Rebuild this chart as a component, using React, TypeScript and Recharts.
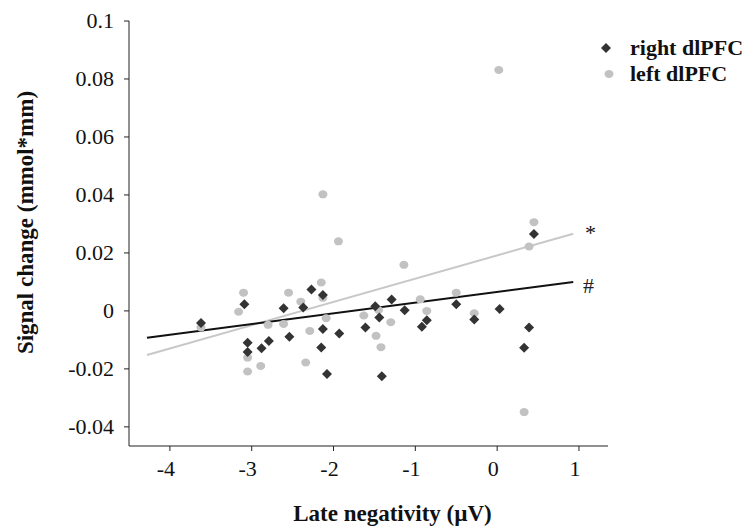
import React from 'react';
import {
  ScatterChart,
  Scatter,
  XAxis,
  YAxis,
  ReferenceLine,
  Label,
} from 'recharts';

// right dlPFC (dark diamonds)
const rightX = [
  -3.62, -3.09, -3.05, -3.05, -2.88, -2.79, -2.61, -2.54, -2.37, -2.27,
  -2.13, -2.13, -2.15, -2.08, -1.93, -1.61, -1.49, -1.44, -1.29, -1.41,
  -1.13, -0.92, -0.86, -0.5, -0.28, 0.03, 0.33, 0.39, 0.45,
];
const rightY = [
  -0.0042, 0.0023, -0.011, -0.0142, -0.0129, -0.0104, 0.0009, -0.0089, 0.0012, 0.0074,
  0.0055, -0.0062, -0.0126, -0.0218, -0.0078, -0.0057, 0.0016, -0.0023, 0.0039, -0.0225,
  0.0002, -0.0055, -0.0032, 0.0023, -0.003, 0.0007, -0.0127, -0.0057, 0.0265,
];

// left dlPFC (grey circles)
const leftX = [
  -3.62, -3.1, -3.16, -3.05, -3.05, -2.89, -2.8, -2.61, -2.55, -2.4,
  -2.34, -2.29, -2.15, -2.13, -2.09, -2.13, -1.94, -1.63, -1.45, -1.3,
  -1.48, -1.42, -1.14, -0.94, -0.86, -0.5, -0.28, 0.02, 0.39, 0.45, 0.33,
];
const leftY = [
  -0.0057, 0.0063, -0.0003, -0.0161, -0.0209, -0.019, -0.0048, -0.0045, 0.0063, 0.0032,
  -0.0178, -0.0069, 0.0098, 0.0045, -0.0025, 0.0402, 0.024, -0.0016, 0.0003, -0.0039,
  -0.0086, -0.0125, 0.0159, 0.004, 0.0, 0.0063, -0.0008, 0.0831, 0.0222, 0.0306, -0.0349,
];

// regression lines: [start, end]
const fitX = [-4.28, 0.93];
const rightFitY = [-0.0093, 0.01];
const leftFitY = [-0.0152, 0.0266];

const xTicks = [-4, -3, -2, -1, 0, 1];
const yTicks = [-0.04, -0.02, 0, 0.02, 0.04, 0.06, 0.08, 0.1];

const rightData = rightX.map((x, i) => ({ x, y: rightY[i] }));
const leftData = leftX.map((x, i) => ({ x, y: leftY[i] }));

const FONT = 'Liberation Serif, Times New Roman, serif';
const DARK = '#333333';
const GREY = '#c2c2c2';

const Diamond = (props: any) => {
  const { cx, cy } = props;
  const r = 5;
  return (
    <polygon
      points={`${cx},${cy - r} ${cx + r},${cy} ${cx},${cy + r} ${cx - r},${cy}`}
      fill={DARK}
    />
  );
};

const Dot = (props: any) => {
  const { cx, cy } = props;
  return <ellipse cx={cx} cy={cy} rx={4.5} ry={4} fill={GREY} />;
};

const fmtY = (v: number) => (v === 0 ? '0' : String(Number(v.toFixed(2))));

const XTick = (props: any) => {
  const { x, y, payload } = props;
  return (
    <text x={x - 4} y={y + 23} textAnchor="middle" fontFamily={FONT} fontSize={22} fill="#111">
      {payload.value}
    </text>
  );
};

const YTick = (props: any) => {
  const { x, y, payload } = props;
  return (
    <text x={x - 8} y={y} dy={7} textAnchor="end" fontFamily={FONT} fontSize={22} fill="#111">
      {fmtY(payload.value)}
    </text>
  );
};

const YTitle = (props: any) => {
  const { viewBox } = props;
  const cx = 25;
  const cy = viewBox.y + viewBox.height / 2 - 11;
  return (
    <text
      x={cx}
      y={cy}
      transform={`rotate(-90, ${cx}, ${cy})`}
      textAnchor="middle"
      dominantBaseline="central"
      fontFamily={FONT}
      fontSize={23}
      fontWeight="bold"
      fill="#111"
    >
      Signal change (mmol*mm)
    </text>
  );
};

export default function App() {
  return (
    <div style={{ position: 'absolute', left: 0, top: 0, width: 754, height: 526, background: '#fff' }}>
      <ScatterChart
        width={754}
        height={526}
        margin={{ top: 21, right: 146, bottom: 0, left: 0 }}
      >
        <XAxis
          type="number"
          dataKey="x"
          domain={[-4.5, 1.355]}
          ticks={xTicks}
          allowDataOverflow
          height={80}
          stroke="#222"
          tickSize={5}
          tick={<XTick />}
          label={{
            value: 'Late negativity (µV)',
            position: 'insideBottom',
            offset: 5,
            dx: 24,
            style: { fontFamily: FONT, fontSize: 23, fontWeight: 'bold', fill: '#111' },
          }}
        />
        <YAxis
          type="number"
          dataKey="y"
          domain={[-0.0466, 0.1]}
          ticks={yTicks}
          allowDataOverflow
          width={129}
          stroke="#222"
          tickSize={5}
          tick={<YTick />}
        >
          <Label content={<YTitle />} />
        </YAxis>
        <Scatter name="left dlPFC" data={leftData} shape={<Dot />} isAnimationActive={false} />
        <Scatter name="right dlPFC" data={rightData} shape={<Diamond />} isAnimationActive={false} />
        <ReferenceLine
          segment={[
            { x: fitX[0], y: leftFitY[0] },
            { x: fitX[1], y: leftFitY[1] },
          ]}
          stroke="#c8c8c8"
          strokeWidth={2}
        />
        <ReferenceLine
          segment={[
            { x: fitX[0], y: rightFitY[0] },
            { x: fitX[1], y: rightFitY[1] },
          ]}
          stroke="#111"
          strokeWidth={2}
        />
      </ScatterChart>

      {/* significance marks */}
      <div style={{ position: 'absolute', left: 585, top: 220, fontFamily: FONT, fontSize: 22, color: '#111' }}>*</div>
      <div style={{ position: 'absolute', left: 583, top: 273, fontFamily: FONT, fontSize: 22, color: '#222' }}>#</div>

      {/* Legend */}
      <div style={{ position: 'absolute', left: 600, top: 35, fontFamily: FONT, fontSize: 22, fontWeight: 'bold', color: '#111' }}>
        <div style={{ display: 'flex', alignItems: 'center', height: 26 }}>
          <svg width={30} height={14}>
            <polygon points="6,2 11,7 6,12 1,7" fill={DARK} />
          </svg>
          <span>right dlPFC</span>
        </div>
        <div style={{ display: 'flex', alignItems: 'center', height: 26 }}>
          <svg width={30} height={14}>
            <ellipse cx={9} cy={7} rx={4.5} ry={4} fill={GREY} />
          </svg>
          <span>left dlPFC</span>
        </div>
      </div>
    </div>
  );
}
